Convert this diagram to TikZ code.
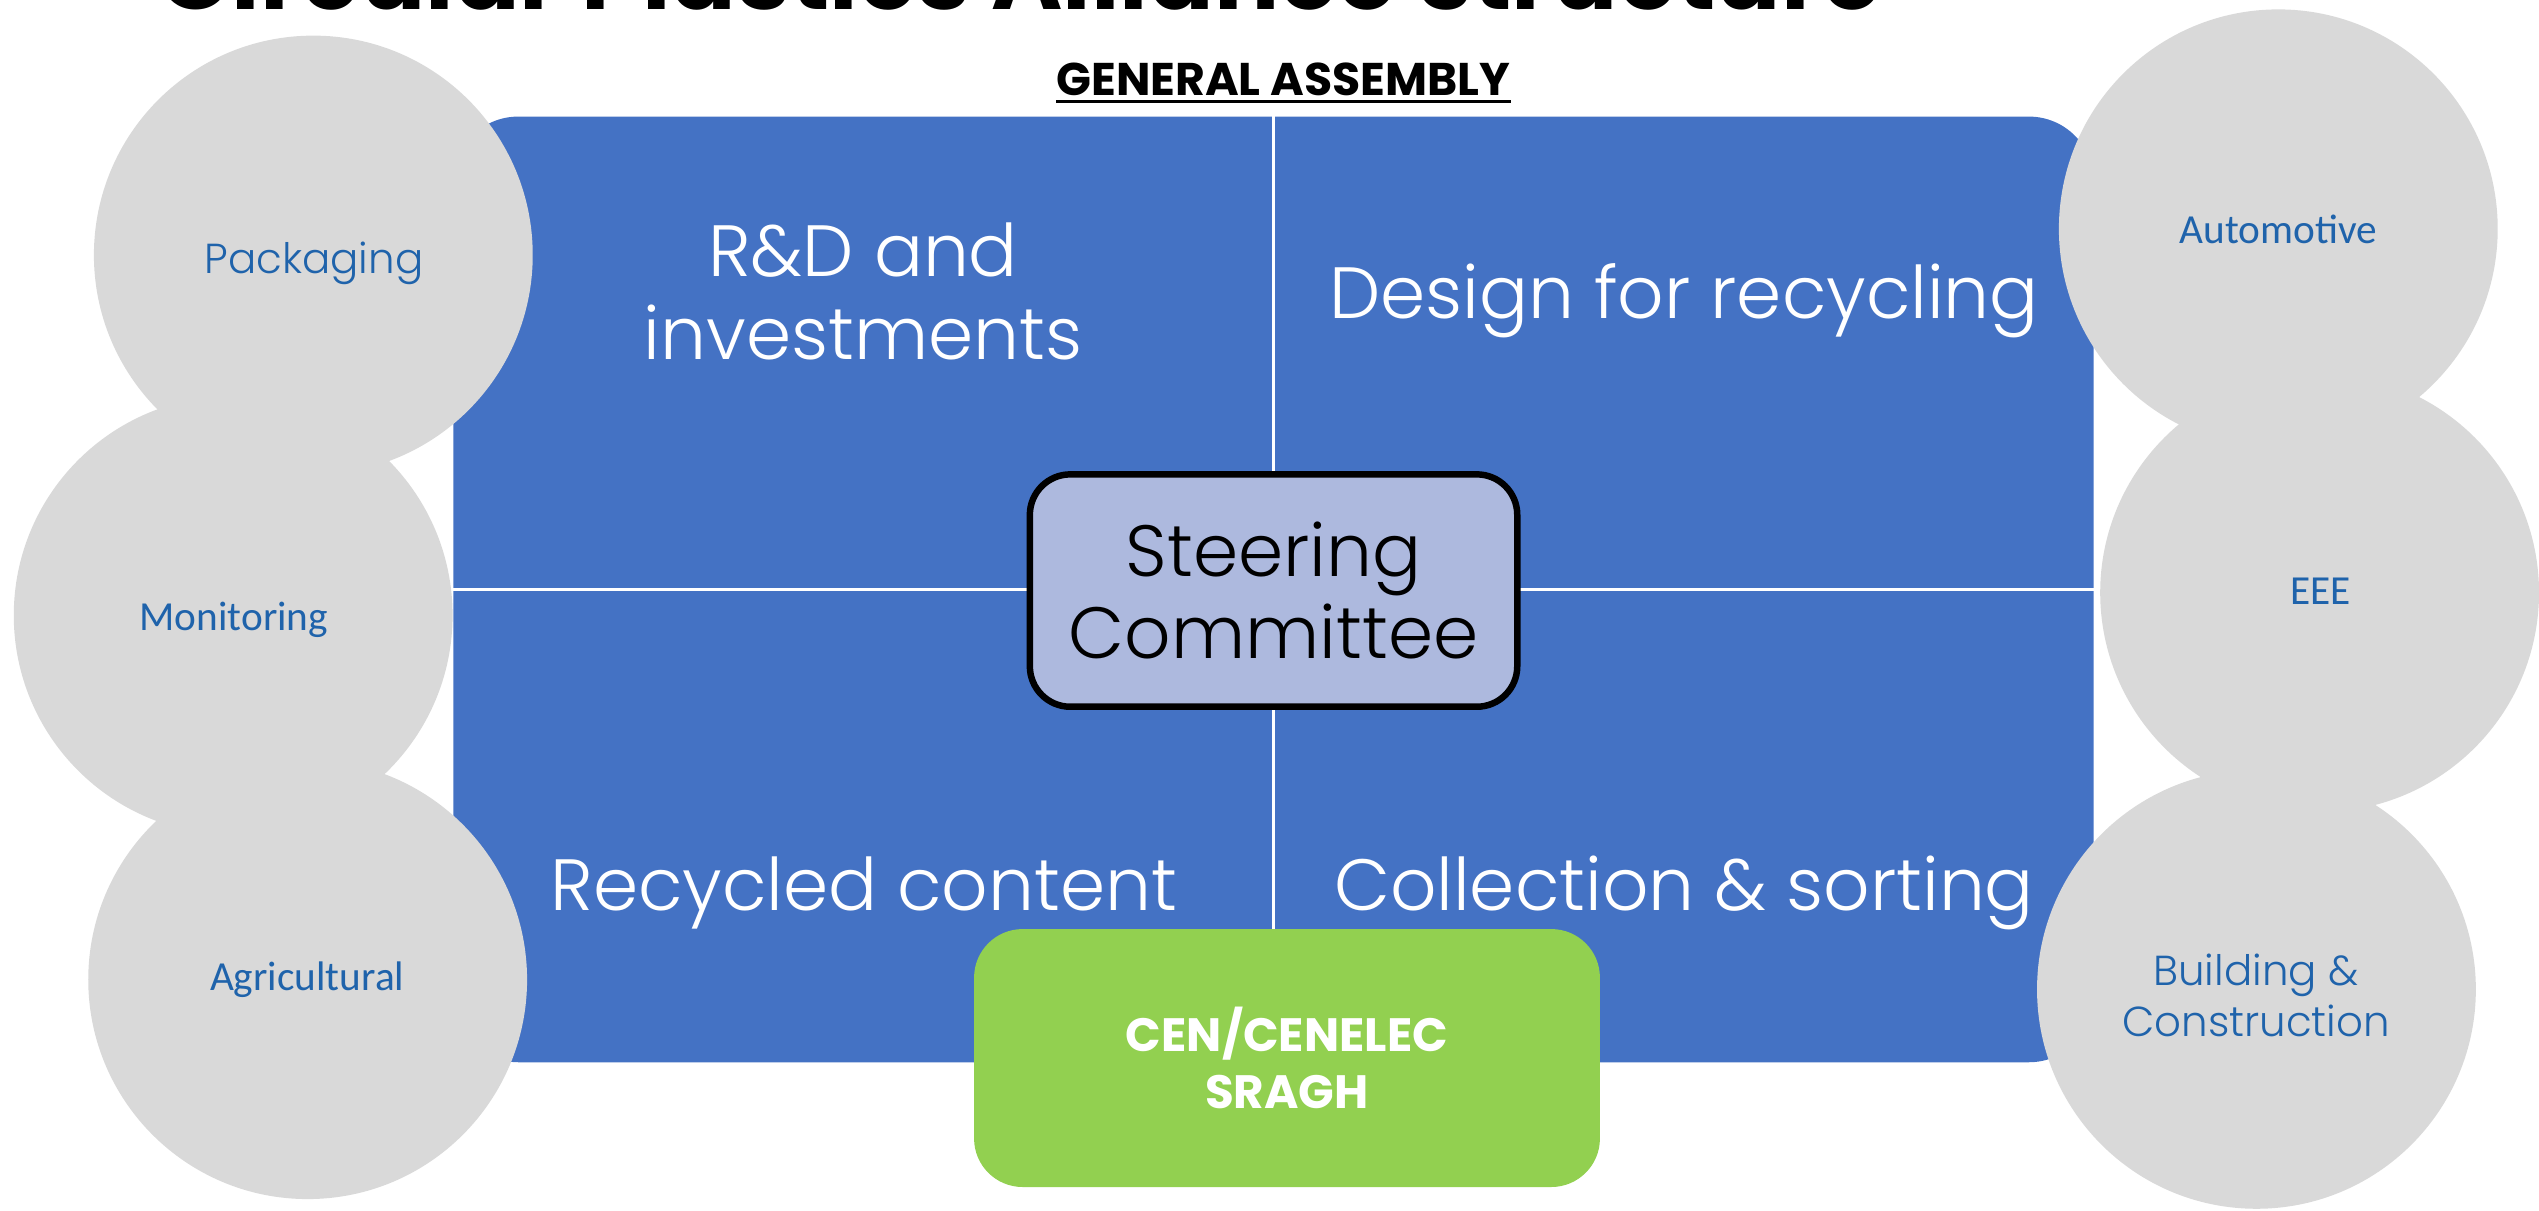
\documentclass[tikz,border=0pt]{standalone}
\usepackage{fontspec}
\newfontfamily\gothic{Poppins}[UprightFont=* Light, BoldFont=* Bold]
\newfontfamily\gothicbold{Poppins}[UprightFont=* Bold]
\newfontfamily\calib{Carlito}
\definecolor{mainblue}{HTML}{4472C4}
\definecolor{circgrey}{HTML}{D9D9D9}
\definecolor{cengreen}{HTML}{92D050}
\definecolor{steerfill}{HTML}{ADB9DE}
\definecolor{labblue}{HTML}{1F63AB}
\tikzset{
  bluebox/.style={fill=mainblue, rounded corners=40bp, minimum width=1013bp, minimum height=584bp, inner sep=0},
  divider/.style={draw=white, line width=1.6bp},
  quadtext/.style={font=\gothic\fontsize{45}{51}\selectfont, text=white, inner sep=0, align=center},
  steerbox/.style={draw=black, fill=steerfill, line width=4bp, rounded corners=25bp, minimum width=301bp, minimum height=143.5bp, inner sep=0, align=center, font=\gothic\fontsize{45}{51}\selectfont},
  cenbox/.style={fill=cengreen, rounded corners=30bp, minimum width=386.5bp, minimum height=159.3bp, inner sep=0, align=center, text=white, font=\gothicbold\fontsize{29}{35.6}\selectfont},
  circ/.style={circle, fill=circgrey, minimum size=271bp, inner sep=0},
  gothlab/.style={text=labblue, inner sep=0, align=center, font=\gothic\fontsize{26}{31.3}\selectfont},
  calilab/.style={text=labblue, inner sep=0, font=\calib\fontsize{25.6}{30}\selectfont},
  titletext/.style={inner sep=0, font=\gothicbold\fontsize{60}{70}\selectfont},
  gatext/.style={inner sep=0, font=\gothicbold\fontsize{28.4}{33}\selectfont}
}
\begin{document}
\begin{tikzpicture}[x=1bp,y=-1bp]
\useasboundingbox (0,0) rectangle (1568,747.3);
\clip (0,0) rectangle (1568,747.3);
% title (cut off at top, as in the reference)
\node[titletext, anchor=base] (title) at (630,6) {Circular Plastics Alliance structure};
% general assembly
\node[gatext, anchor=base] (ga) at (792.5,58.7) {GENERAL ASSEMBLY};
\draw[line width=2bp] ([yshift=-4bp]ga.base west) -- ([yshift=-4bp]ga.base east);
% main board
\node[bluebox] (board) at (786.5,364) {};
\draw[divider] (board.north) -- (board.south);
\draw[divider] (board.west) -- (board.east);
% quadrant texts
\node[quadtext] (rd) at (533,180) {R\&D and\\investments};
\node[quadtext, anchor=base] (dfr) at (1040,196.6) {Design for recycling};
\node[quadtext, anchor=base] (rc) at (533.5,562) {Recycled content};
\node[quadtext, anchor=base] (cs) at (1040,562) {Collection \& sorting};
% steering committee
\node[steerbox] (sc) at (786.5,364.7) {Steering\\Committee};
% CEN/CENELEC
\node[cenbox] (cen) at (794.8,653.4) {CEN/CENELEC\\SRAGH};
% circles left
\node[circ] (pack) at (193.5,157.5) {};
\node[circ] (moni) at (144,380) {};
\node[circ] (agri) at (190,605) {};
% circles right
\node[circ] (auto) at (1407,141.3) {};
\node[circ] (eee) at (1432.5,366) {};
\node[circ] (build) at (1393.5,611) {};
% circle labels
\node[gothlab, anchor=base] (packt) at (193.9,168.8) {Packaging};
\node[calilab, anchor=base] (monit) at (144.4,389.5) {Monitoring};
\node[calilab, anchor=base] (agrit) at (189.7,611.8) {Agricultural};
\node[calilab, anchor=base] (autot) at (1407,150.3) {Automotive};
\node[calilab, anchor=base] (eeet) at (1433,373.2) {EEE};
\node[gothlab, anchor=base] (buildt1) at (1393.2,608.9) {Building \&};
\node[gothlab, anchor=base] (buildt2) at (1393.2,640.2) {Construction};
\end{tikzpicture}
\end{document}
